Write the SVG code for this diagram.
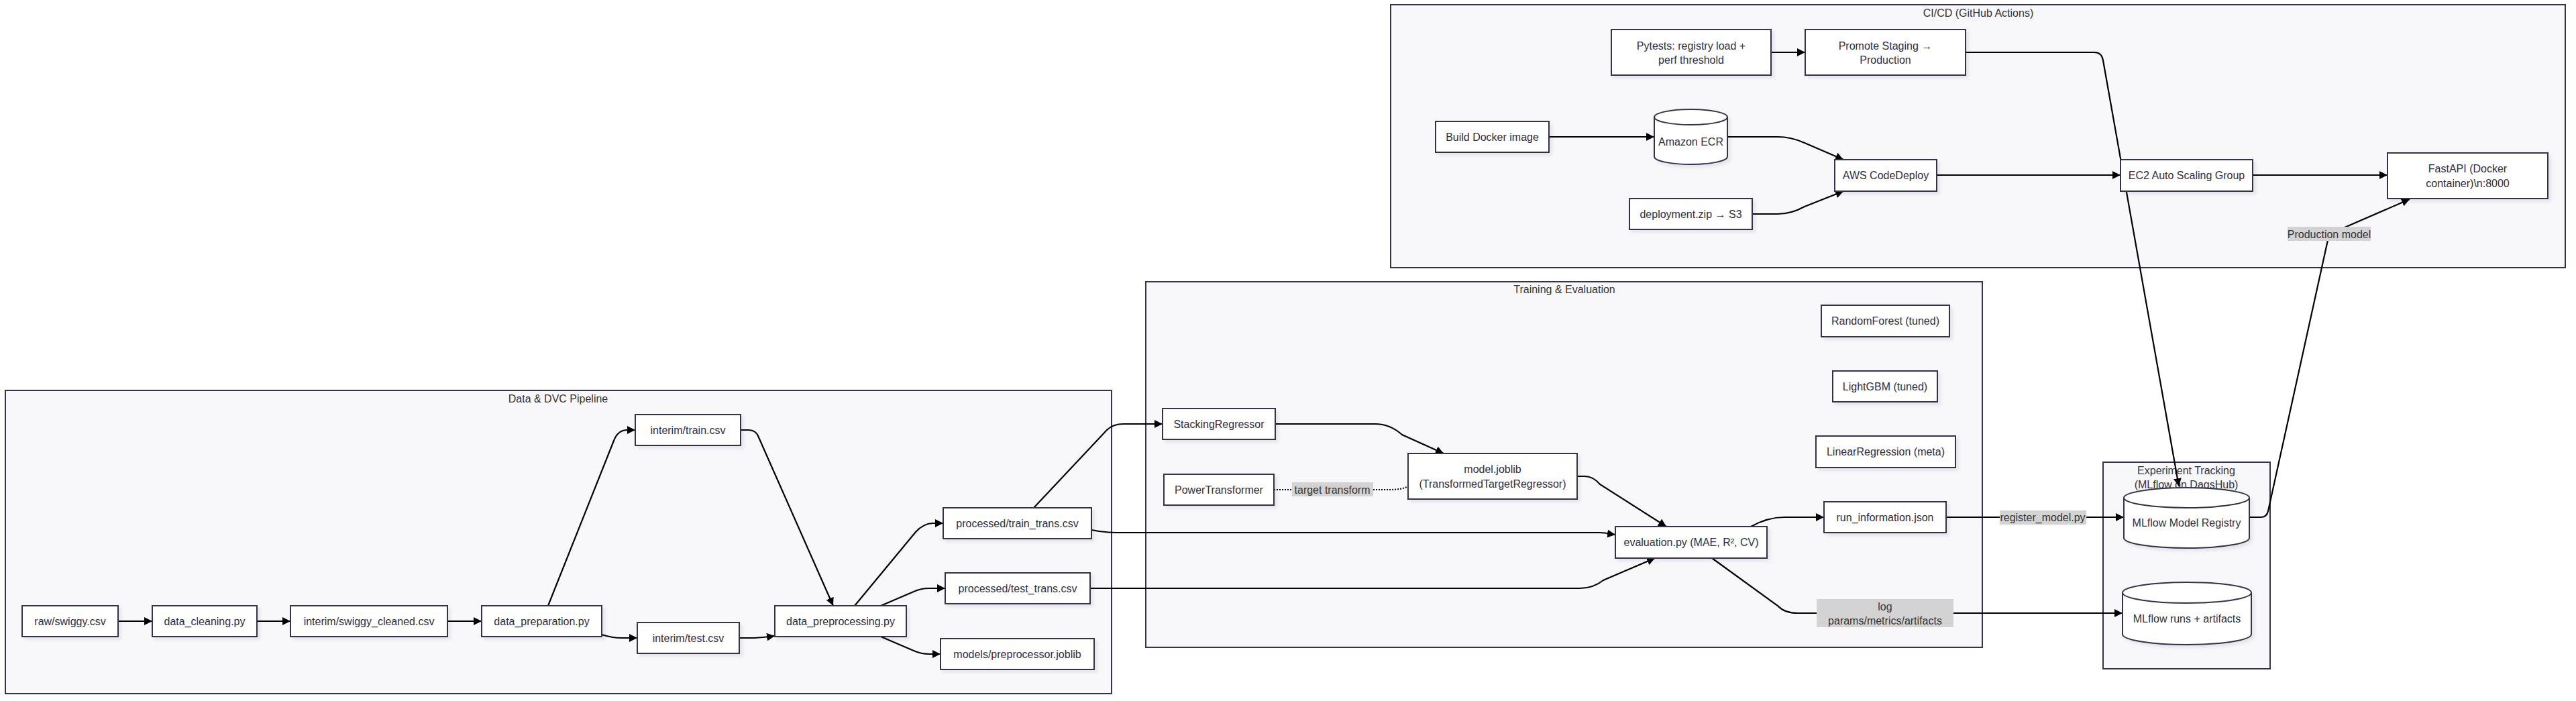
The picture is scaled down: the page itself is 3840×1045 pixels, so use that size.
<svg xmlns="http://www.w3.org/2000/svg" width="3840" height="1045" viewBox="0 0 3840 1045">
<defs>
<style>
.cl{fill:#f8f8fa;stroke:#33334a;stroke-width:2}
.ct{font-family:"Liberation Sans",Arial,sans-serif;font-size:16px;fill:#333;text-anchor:middle;dominant-baseline:central}
.n rect,.n path{fill:#fff;stroke:#33334a;stroke-width:2;filter:url(#sh)}
.n text{font-family:"Liberation Sans",Arial,sans-serif;font-size:16px;fill:#2e2e3e;text-anchor:middle;dominant-baseline:central}
.e{fill:none;stroke:#000;stroke-width:2.2}
.e.a{marker-end:url(#ar)}
.e.d{stroke-dasharray:2 2;stroke-width:2}
.lb{fill:#d3d3d3}
.lt{font-family:"Liberation Sans",Arial,sans-serif;font-size:16px;fill:#333;text-anchor:middle;dominant-baseline:central}
</style>
<filter id="sh" x="-10%" y="-10%" width="130%" height="140%">
<feDropShadow dx="4" dy="4" stdDeviation="2" flood-color="#000" flood-opacity="0.07"/>
</filter>
<marker id="ar" viewBox="0 0 10 10" refX="10" refY="5" markerUnits="userSpaceOnUse" markerWidth="12" markerHeight="12" orient="auto">
<path d="M0,0 L10,5 L0,10 z" fill="#000"/>
</marker>
</defs>
<rect width="3840" height="1045" fill="#fff"/>

<g id="clusters">
<g id="cluster-data"><rect class="cl" x="8" y="582" width="1649" height="452"/><text class="ct" x="832" y="594">Data &amp; DVC Pipeline</text></g>
<g id="cluster-train"><rect class="cl" x="1708" y="420" width="1247" height="545"/><text class="ct" x="2332" y="431">Training &amp; Evaluation</text></g>
<g id="cluster-cicd"><rect class="cl" x="2073" y="7" width="1751" height="392"/><text class="ct" x="2949" y="19">CI/CD (GitHub Actions)</text></g>
<g id="cluster-exp"><rect class="cl" x="3135" y="689" width="249" height="308"/><text class="ct" x="3259" y="701">Experiment Tracking</text><text class="ct" x="3259" y="722">(MLflow on DagsHub)</text></g>
</g>

<g id="connectors">
<path class="e a" d="M176,926 L227,926"/>
<path class="e a" d="M383,926 L433,926"/>
<path class="e a" d="M667,926 L718,926"/>
<path class="e a" d="M817,903 L915,657 Q921,641 935,641 L947,641"/>
<path class="e a" d="M897,946 Q912,951 927,951 L950,951"/>
<path class="e a" d="M1104,641 L1116,641 Q1127,641 1131,652 L1242,903"/>
<path class="e a" d="M1102,951 L1125,951 Q1140,950 1155,948"/>
<path class="e a" d="M1274,903 L1365,793 Q1377,780 1391,780 L1406,780"/>
<path class="e a" d="M1313,903 L1362,882 Q1373,877 1385,877 L1409,877"/>
<path class="e a" d="M1313,949 L1362,970 Q1373,975 1385,975 L1402,975"/>
<path class="e a" d="M1541,757 L1650,641 Q1659,632 1675,632 L1733,632"/>
<path class="e a" d="M1627,790 C1645,794 1660,794 1680,794 L2385,794 C2395,794 2400,796 2408,797"/>
<path class="e a" d="M1625,877 L2355,877 Q2375,877 2390,865 L2467,832"/>
<path class="e a" d="M1901,632 L2050,632 Q2072,632 2090,648 L2152,676"/>
<path class="e d" d="M1899,730 L2070,730 Q2090,730 2099,725"/>
<path class="e a" d="M2351,710 L2362,710 Q2375,710 2385,722 L2484,785"/>
<path class="e a" d="M2610,785 Q2635,771 2660,771 L2719,771"/>
<path class="e a" d="M2552,832 L2650,903 Q2660,914 2680,914 L3164,914"/>
<path class="e a" d="M2901,771 L3166,771"/>
<path class="e a" d="M3353,771 L3370,771 Q3379,771 3381,762 L3472,349 L3592,297"/>
<path class="e a" d="M2930,78 L3122,78 Q3133,78 3135,90 L3248,725"/>
<path class="e a" d="M2640,78 L2691,78"/>
<path class="e a" d="M2309,204 L2466,204"/>
<path class="e a" d="M2575,204 L2650,204 Q2670,204 2690,213 L2748,238"/>
<path class="e a" d="M2612,319 L2650,319 Q2670,319 2690,308 L2748,285"/>
<path class="e a" d="M2887,261 L3161,261"/>
<path class="e a" d="M3358,261 L3559,261"/>
<g id="edge-labels">
<rect class="lb" x="1926" y="719" width="121" height="21"/><text class="lt" x="1986" y="730">target transform</text>
<rect class="lb" x="2981" y="761" width="129" height="21"/><text class="lt" x="3045" y="771">register_model.py</text>
<rect class="lb" x="2708" y="893" width="204" height="42"/><text class="lt" x="2810" y="904">log</text><text class="lt" x="2810" y="925">params/metrics/artifacts</text>
<rect class="lb" x="3410" y="338" width="124" height="21"/><text class="lt" x="3472" y="349">Production model</text>
</g>
</g>

<g id="raw" class="n"><rect x="33" y="903" width="143" height="46"/><text x="104.5" y="926">raw/swiggy.csv</text></g>
<g id="clean" class="n"><rect x="227" y="903" width="156" height="46"/><text x="305" y="926">data_cleaning.py</text></g>
<g id="cleaned" class="n"><rect x="433" y="903" width="234" height="46"/><text x="550" y="926">interim/swiggy_cleaned.csv</text></g>
<g id="prep" class="n"><rect x="718" y="903" width="179" height="46"/><text x="807.5" y="926">data_preparation.py</text></g>
<g id="itrain" class="n"><rect x="947" y="618" width="157" height="46"/><text x="1025.5" y="641">interim/train.csv</text></g>
<g id="itest" class="n"><rect x="950" y="928" width="152" height="46"/><text x="1026" y="951">interim/test.csv</text></g>
<g id="preproc" class="n"><rect x="1155" y="903" width="196" height="46"/><text x="1253" y="926">data_preprocessing.py</text></g>
<g id="trtrans" class="n"><rect x="1406" y="757" width="221" height="46"/><text x="1516.5" y="780">processed/train_trans.csv</text></g>
<g id="tetrans" class="n"><rect x="1409" y="854" width="216" height="46"/><text x="1517" y="877">processed/test_trans.csv</text></g>
<g id="ppjob" class="n"><rect x="1402" y="952" width="229" height="46"/><text x="1516.5" y="975">models/preprocessor.joblib</text></g>
<g id="stack" class="n"><rect x="1733" y="609" width="168" height="46"/><text x="1817" y="632">StackingRegressor</text></g>
<g id="power" class="n"><rect x="1735" y="707" width="164" height="46"/><text x="1817" y="730">PowerTransformer</text></g>
<g id="model" class="n"><rect x="2099" y="676" width="252" height="68"/><text x="2225" y="699">model.joblib</text><text x="2225" y="721">(TransformedTargetRegressor)</text></g>
<g id="eval" class="n"><rect x="2408" y="785" width="226" height="47"/><text x="2521" y="808">evaluation.py (MAE, R², CV)</text></g>
<g id="rf" class="n"><rect x="2715" y="455" width="191" height="47"/><text x="2810.5" y="478">RandomForest (tuned)</text></g>
<g id="lgbm" class="n"><rect x="2732" y="553" width="156" height="46"/><text x="2810" y="576">LightGBM (tuned)</text></g>
<g id="lr" class="n"><rect x="2707" y="650" width="208" height="47"/><text x="2811" y="673">LinearRegression (meta)</text></g>
<g id="runinfo" class="n"><rect x="2719" y="748" width="182" height="46"/><text x="2810" y="771">run_information.json</text></g>
<g id="pytests" class="n"><rect x="2402" y="44" width="238" height="68"/><text x="2521" y="68">Pytests: registry load +</text><text x="2521" y="89">perf threshold</text></g>
<g id="promote" class="n"><rect x="2691" y="44" width="239" height="68"/><text x="2810.5" y="68">Promote Staging →</text><text x="2810.5" y="89">Production</text></g>
<g id="build" class="n"><rect x="2140" y="181" width="169" height="46"/><text x="2224.5" y="204">Build Docker image</text></g>
<g id="ecr" class="n"><path d="M2466,174.5 a54.5,11.5 0 0 0 109,0 a54.5,11.5 0 0 0 -109,0 l0,59 a54.5,11.5 0 0 0 109,0 l0,-59"/><text x="2520.5" y="211">Amazon ECR</text></g>
<g id="codedeploy" class="n"><rect x="2735" y="238" width="152" height="47"/><text x="2811" y="261">AWS CodeDeploy</text></g>
<g id="deployzip" class="n"><rect x="2429" y="296" width="183" height="46"/><text x="2520.5" y="319">deployment.zip → S3</text></g>
<g id="ec2" class="n"><rect x="3161" y="238" width="197" height="47"/><text x="3259.5" y="261">EC2 Auto Scaling Group</text></g>
<g id="fastapi" class="n"><rect x="3559" y="228" width="239" height="68"/><text x="3678.5" y="251">FastAPI (Docker</text><text x="3678.5" y="273">container)\n:8000</text></g>
<g id="registry" class="n"><path d="M3166,742 a93.5,15 0 0 0 187,0 a93.5,15 0 0 0 -187,0 l0,60 a93.5,15 0 0 0 187,0 l0,-60"/><text x="3259.5" y="779">MLflow Model Registry</text></g>
<g id="runs" class="n"><path d="M3164,883.5 a96,15.5 0 0 0 192,0 a96,15.5 0 0 0 -192,0 l0,62 a96,15.5 0 0 0 192,0 l0,-62"/><text x="3260" y="922">MLflow runs + artifacts</text></g>
</svg>
